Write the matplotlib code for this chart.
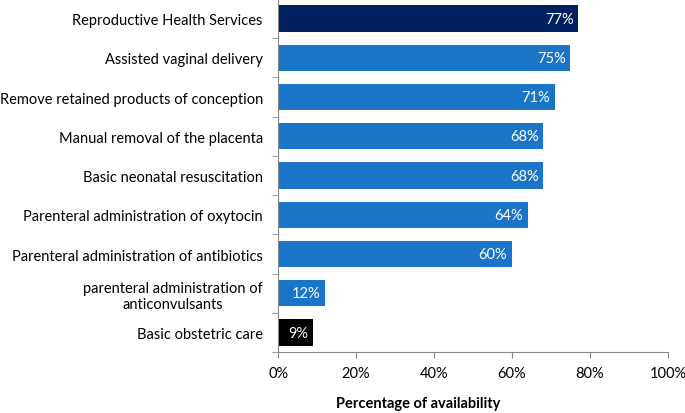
import numpy as np
from matplotlib import pyplot as plt

plt.rcParams['font.family'] = ['Lato', 'DejaVu Sans']

services = ["Reproductive Health Services",
            "Assisted vaginal delivery",
            "Remove retained products of conception",
            "Manual removal of the placenta",
            "Basic neonatal resuscitation",
            "Parenteral administration of oxytocin",
            "Parenteral administration of antibiotics",
            "parenteral administration of\nanticonvulsants",
            "Basic obstetric care"]
availability = [77, 75, 71, 68, 68, 64, 60, 12, 9]
colors = ['#002060'] + ['#1a75c9'] * 7 + ['#000000']

fig = plt.figure(figsize=(6.85, 4.14), dpi=100)
ax = fig.add_axes([0.406, 0.147, 0.569, 0.853])

y = np.arange(len(services))
ax.barh(y, availability, height=0.67, color=colors)
for yi, v in zip(y, availability):
    ax.text(v - 1.2, yi, f"{v}%", color='white', ha='right', va='center', fontsize=10.5)

ax.set_ylim(len(services) - 0.5, -0.5)
ax.set_yticks(y)
ax.set_yticklabels(services, fontsize=10.5, multialignment='center')
ax.set_yticks(np.arange(-0.5, len(services)), minor=True)
ax.tick_params(axis='y', which='major', length=0, pad=11)
ax.tick_params(axis='y', which='minor', length=4, color='#888888')

ax.set_xlim(0, 100)
ax.set_xticks(np.arange(0, 101, 20))
ax.set_xticklabels([f"{t}%" for t in range(0, 101, 20)], fontsize=10.5)
ax.tick_params(axis='x', length=4, color='#888888', pad=6)
ax.set_xlabel("Percentage of availability", fontsize=10.5, fontweight='bold')
# the title under the axis sits left of centre in the original
ax.xaxis.set_label_coords(0.36, -0.125)

for s in ['top', 'right']:
    ax.spines[s].set_visible(False)
for s in ['left', 'bottom']:
    ax.spines[s].set_color('#888888')

fig.savefig("out.png", dpi=100)
